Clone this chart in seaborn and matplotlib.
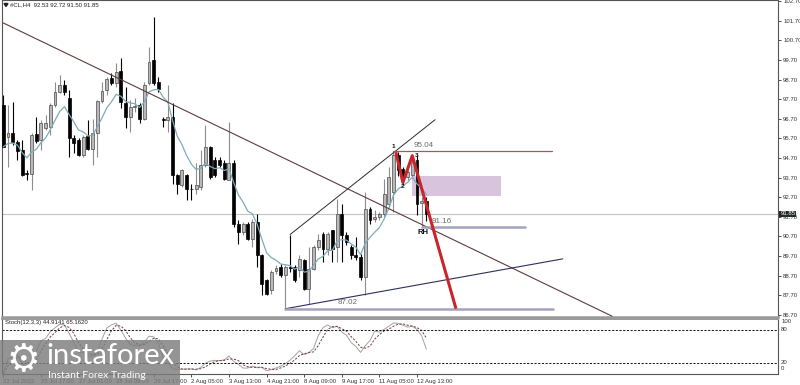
import numpy as np
import pandas as pd
import matplotlib
matplotlib.use("Agg")
import matplotlib.pyplot as plt
import seaborn as sns
from matplotlib.patches import Rectangle, Polygon

# ---------------- data (H4 candles, #CL) ----------------
opens = [97.39, 95.75, 95.98, 95.52, 95.10, 93.94, 93.91, 95.90, 95.61, 96.21,
         96.29, 97.39, 98.07, 98.41, 97.74, 95.70, 95.61, 94.84, 95.82, 95.18,
         95.95, 97.61, 98.16, 98.80, 98.50, 99.14, 97.48, 96.80, 97.31, 97.39,
         96.71, 98.50, 99.69, 98.58, 96.70, 96.63, 96.80, 93.82, 93.31, 93.82,
         93.14, 93.14, 93.23, 94.33, 95.27, 94.59, 94.59, 94.42, 93.60, 94.42,
         91.36, 90.93, 91.36, 90.59, 91.44, 89.74, 88.47, 87.96, 88.94, 89.14,
         88.72, 89.14, 89.14, 88.98, 89.49, 88.04, 89.06, 90.17, 90.85, 90.08,
         91.02, 90.17, 91.87, 90.76, 90.17, 89.78, 89.66, 88.64, 92.12, 91.61,
         91.70, 91.87, 92.38, 92.97, 94.84, 94.16, 93.74, 93.82, 94.59, 92.40,
         92.53]
highs = [97.90, 97.39, 97.56, 95.61, 95.61, 94.08, 95.95, 96.80, 96.63, 96.88,
         97.48, 98.58, 98.92, 98.67, 98.16, 95.86, 95.70, 95.86, 96.63, 96.71,
         97.65, 98.58, 98.84, 99.01, 99.52, 99.78, 98.33, 97.65, 97.74, 97.48,
         98.58, 100.37, 101.88, 98.84, 96.80, 98.41, 97.48, 93.91, 94.16, 93.91,
         93.40, 94.42, 95.10, 96.37, 95.30, 94.76, 94.76, 94.59, 96.54, 94.59,
         91.53, 91.44, 91.44, 91.61, 91.87, 89.83, 88.55, 88.98, 89.23, 89.32,
         89.23, 90.80, 89.23, 89.74, 89.57, 90.17, 90.26, 90.85, 90.93, 90.93,
         91.05, 92.63, 92.38, 90.93, 90.26, 90.68, 89.83, 92.97, 92.21, 92.04,
         91.95, 93.65, 94.25, 95.04, 95.00, 94.25, 94.10, 94.60, 94.87, 92.70,
         92.72]
lows = [95.25, 94.25, 95.35, 94.59, 93.80, 93.57, 93.06, 95.44, 95.10, 96.12,
        95.86, 97.31, 97.99, 97.90, 94.76, 94.93, 94.80, 94.76, 95.10, 94.33,
        94.76, 97.48, 97.90, 98.41, 98.33, 97.23, 96.21, 96.03, 97.05, 96.46,
        96.63, 98.41, 98.41, 98.07, 96.29, 96.03, 93.40, 92.89, 93.23, 92.55,
        92.55, 92.89, 93.06, 94.25, 93.65, 93.74, 94.25, 93.57, 93.57, 91.19,
        90.34, 90.76, 90.51, 90.17, 89.14, 87.70, 87.70, 87.79, 88.81, 88.64,
        87.02, 88.90, 88.38, 88.64, 87.96, 87.28, 88.98, 89.99, 89.40, 89.74,
        89.40, 89.40, 89.40, 90.26, 89.57, 89.49, 88.47, 87.70, 91.36, 91.44,
        91.53, 91.70, 92.21, 91.95, 93.80, 93.31, 93.60, 93.70, 91.78, 91.16,
        91.50]
closes = [95.27, 95.95, 95.52, 95.06, 93.84, 93.90, 95.86, 95.57, 96.49, 96.46,
          97.39, 98.07, 98.41, 98.07, 95.70, 95.44, 94.84, 95.78, 95.18, 95.95,
          97.61, 98.11, 98.75, 98.50, 99.09, 97.56, 96.80, 97.28, 97.33, 96.71,
          98.41, 99.60, 98.50, 98.24, 96.63, 96.80, 93.82, 93.40, 94.08, 93.14,
          93.10, 93.31, 94.33, 95.27, 93.74, 93.82, 94.33, 93.65, 94.42, 91.36,
          90.93, 91.36, 90.59, 91.44, 89.74, 88.30, 87.79, 88.89, 89.09, 88.72,
          89.14, 89.09, 88.47, 89.57, 88.04, 89.06, 90.17, 90.51, 90.08, 90.85,
          90.08, 91.87, 90.76, 90.42, 89.74, 89.66, 88.64, 92.12, 91.53, 91.70,
          91.87, 92.89, 93.74, 94.84, 94.08, 93.74, 94.00, 94.50, 92.38, 92.50,
          91.85]

tick_idx = [0, 8, 16, 24, 32, 40, 48, 56, 64, 72, 80, 88]
tick_labels = ["22 Jul 2022", "25 Jul 17:00", "27 Jul 01:00", "28 Jul 09:00",
               "29 Jul 17:00", "2 Aug 05:00", "3 Aug 13:00", "4 Aug 21:00",
               "8 Aug 09:00", "9 Aug 17:00", "11 Aug 05:00", "12 Aug 13:00"]
price_ticks = [102.70, 101.70, 100.70, 99.70, 98.70, 97.70, 96.70, 95.70, 94.70,
               93.70, 92.70, 91.70, 90.70, 89.70, 88.70, 87.70, 86.70]
last_price = 91.85

# drawn objects (candle index, price)
trend_x, trend_y = [0, 129.5], [101.58, 86.64]
chan_up_x, chan_up_y = [61, 91.85], [90.80, 96.65]
chan_lo_x, chan_lo_y = [60, 119], [87.02, 89.56]
lvl_high = 95.04
lvl_high_x = [83, 116.7]
lvl_mid = 91.16
lvl_mid_x = [89, 111]
lvl_low = 87.02
lvl_low_x = [60, 116.9]
zone_x = [87.0, 105.9]
zone_y = [92.77, 93.79]
red_x = [83.5, 85.0, 87.0, 96.3]
red_y = [95.00, 93.45, 94.82, 87.02]

# ---------------- style ----------------
sns.set_theme(style="white")
plt.rcParams['font.family'] = ['Liberation Sans', 'DejaVu Sans']

W, H = 800, 385
fig = plt.figure(figsize=(8, 3.85), dpi=100)
fig.patch.set_facecolor("white")


def fx(px):
    return px / W


def fy(py):
    return 1 - py / H


ax = fig.add_axes([fx(2), fy(317), (778 - 2) / W, 317 / H])
ax2 = fig.add_axes([fx(2), fy(373.5), (778 - 2) / W, (373.5 - 319) / H])
XL = (-0.28, 164.8)

df = pd.DataFrame({"i": np.arange(len(closes)), "o": opens, "h": highs,
                   "l": lows, "c": closes})
bull = df["c"] >= df["o"]
bear = ~bull

# current price line
ax.axhline(last_price, color="#c4c4c4", lw=0.8, zorder=0.5)

# zone rectangle
ax.add_patch(Rectangle((zone_x[0], zone_y[0]), zone_x[1] - zone_x[0],
                       zone_y[1] - zone_y[0], facecolor="#d9c4dd",
                       edgecolor="none", zorder=1))

# candles
ax.vlines(df["i"][bull], df["l"][bull], df["h"][bull], color="#8c8c8c", lw=0.8, zorder=2)
ax.vlines(df["i"][bear], df["l"][bear], df["h"][bear], color="#000000", lw=0.8, zorder=2)
body_lo = np.minimum(df["o"], df["c"])
body_h = (df["c"] - df["o"]).abs().clip(lower=0.04)
ax.bar(df["i"][bull], body_h[bull], bottom=body_lo[bull], width=0.62,
       color="#b9b9b9", edgecolor="#4a4a4a", linewidth=0.5, zorder=3)
ax.bar(df["i"][bear], body_h[bear], bottom=body_lo[bear], width=0.62,
       color="#000000", edgecolor="#000000", linewidth=0.5, zorder=3)

# moving average
df["ma"] = df["c"].ewm(span=7, adjust=False).mean()
sns.lineplot(data=df, x="i", y="ma", ax=ax, color="#7fabbb", lw=0.9, zorder=4)

# trend lines and levels
ax.plot(trend_x, trend_y, color="#5e3b3b", lw=0.8, zorder=5)
ax.plot(chan_up_x, chan_up_y, color="#2c2c2c", lw=0.7, zorder=5)
ax.plot(chan_lo_x, chan_lo_y, color="#2e2e5e", lw=0.8, zorder=5)
ax.plot(lvl_high_x, [lvl_high, lvl_high], color="#a05a5a", lw=0.9, zorder=5)
ax.plot(lvl_mid_x, [lvl_mid, lvl_mid], color="#a3a3bb", lw=1.8, zorder=5)
ax.plot(lvl_low_x, [lvl_low, lvl_low], color="#a3a3bb", lw=1.8, zorder=5)
ax.plot(red_x, red_y, color="#c8262c", lw=2.2, zorder=6, solid_capstyle="butt")

ax.text(87.2, 95.36, f"{lvl_high:.2f}", fontsize=5.8, color="#6a6a6a", ha="left", va="center", zorder=7)
ax.text(91.1, 91.44, f"{lvl_mid:.2f}", fontsize=5.8, color="#6a6a6a", ha="left", va="center", zorder=7)
ax.text(73.3, 87.36, f"{lvl_low:.2f}", fontsize=5.8, color="#6a6a6a", ha="center", va="center", zorder=7)
ax.text(82.9, 95.28, "1", fontsize=4.6, fontweight="bold", color="#111", ha="center", va="center", zorder=7)
ax.text(84.9, 93.25, "2", fontsize=4.6, fontweight="bold", color="#111", ha="center", va="center", zorder=7)
ax.text(88.0, 94.82, "3", fontsize=4.6, fontweight="bold", color="#111", ha="center", va="center", zorder=7)
ax.text(89.3, 90.92, "RH", fontsize=5.6, fontweight="bold", color="#111", ha="center", va="center", zorder=7)

ax.set_xlim(*XL)
ax.set_ylim(86.598, 102.751)
ax.set_xlabel("")
ax.set_ylabel("")
ax.set_xticks([])
ax.yaxis.tick_right()
ax.set_yticks(price_ticks)
ax.set_yticklabels([f"{p:.2f}" for p in price_ticks])
ax.tick_params(axis="y", which="both", right=True, left=False, direction="out",
               length=2.5, width=0.6, pad=1.2, labelsize=4.3, colors="#333333")
for s in ["left", "right", "top"]:
    ax.spines[s].set_color("#555555")
    ax.spines[s].set_linewidth(0.8)
ax.spines["bottom"].set_color("#9a9a9a")
ax.spines["bottom"].set_linewidth(1.8)

# current price tag
ax.text(1.003, last_price, f"{last_price:.2f}", transform=ax.get_yaxis_transform(),
        fontsize=4.3, color="white", ha="left", va="center", zorder=8,
        bbox=dict(boxstyle="square,pad=0.15", facecolor="#1f2b2b", edgecolor="none"),
        clip_on=False)

# ---------------- stochastic (12,3,3) ----------------
ll = df["l"].rolling(12, min_periods=1).min()
hh = df["h"].rolling(12, min_periods=1).max()
num = (df["c"] - ll).rolling(3, min_periods=1).sum()
den = (hh - ll).rolling(3, min_periods=1).sum()
df["st_main"] = 100 * num / den
df["st_sig"] = df["st_main"].rolling(3, min_periods=1).mean()

sns.lineplot(data=df, x="i", y="st_main", ax=ax2, color="#a2a2a2", lw=0.7)
sns.lineplot(data=df, x="i", y="st_sig", ax=ax2, color="#6e3c3c", lw=0.7,
             linestyle=(0, (2.2, 1.6)))
for lv in [80, 20]:
    ax2.axhline(lv, color="#111111", lw=0.7, linestyle=(0, (2.2, 1.6)))
ax2.set_xlim(*XL)
ax2.set_ylim(0, 100)
ax2.set_xlabel("")
ax2.set_ylabel("")
ax2.set_yticks([])
ax2.set_xticks(tick_idx)
ax2.set_xticklabels(tick_labels, ha="left")
ax2.tick_params(axis="x", direction="out", length=2.5, width=0.6, pad=1.5,
                labelsize=4.3, colors="#333333", bottom=True)
for s in ["left", "right", "bottom"]:
    ax2.spines[s].set_color("#555555")
    ax2.spines[s].set_linewidth(0.8)
ax2.spines["top"].set_color("#9a9a9a")
ax2.spines["top"].set_linewidth(1.4)
for lab, yv in [("100", 94.5), ("80", 80), ("20", 20), ("0", 10)]:
    ax2.text(1.004, yv, lab, transform=ax2.get_yaxis_transform(), fontsize=4.3,
             color="#333333", ha="left", va="center", clip_on=False)
ax2.text(0.004, 93, "Stoch(12,3,3) 44.9141 65.1620", transform=ax2.get_yaxis_transform(),
         fontsize=4.3, color="#222222", ha="left", va="center")

# ---------------- header ----------------
fig.text(fx(10), fy(5), "#CL,H4  92.53 92.72 91.50 91.85", fontsize=4.3,
         color="#222222", ha="left", va="center")
fig.add_artist(Polygon([(fx(4), fy(3.5)), (fx(8), fy(3.5)), (fx(6), fy(6.5))],
                       closed=True, transform=fig.transFigure, color="#222222"))

# ---------------- watermark ----------------
fig.add_artist(Rectangle((0, 0), fx(180), 1 - fy(45) if False else 45 / H,
                         transform=fig.transFigure, facecolor="#7d7d7d",
                         edgecolor="none", alpha=0.82, zorder=20))
fig.text(fx(23), fy(361), "\u2699", fontsize=27, color="white", ha="center",
         va="center", family="DejaVu Sans", zorder=21)
fig.text(fx(46), fy(356), "instaforex", fontsize=21, color="white", ha="left",
         va="center", family="Lato", zorder=21)
fig.text(fx(48), fy(376), "Instant Forex Trading", fontsize=7.5, color="white",
         ha="left", va="center", family="Lato", zorder=21)

fig.savefig("out.png", dpi=100, facecolor="white")
